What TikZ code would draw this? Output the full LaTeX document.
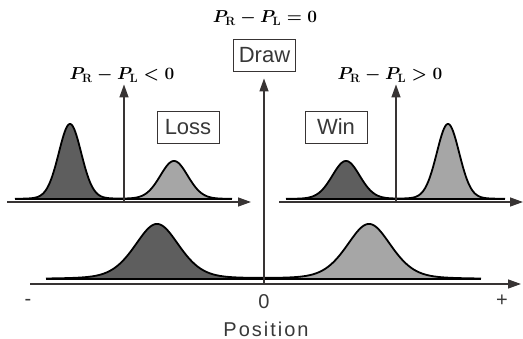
\documentclass[tikz,border=0pt]{standalone}
\usepackage[no-math]{fontspec}
\setmainfont{Liberation Sans}
\newfontfamily\wideface[LetterSpace=10]{Liberation Sans}
\usetikzlibrary{arrows.meta}
\definecolor{axisgray}{HTML}{383434}
\definecolor{textgray}{HTML}{383838}
\definecolor{darkfill}{HTML}{5E5E5E}
\definecolor{lightfill}{HTML}{A6A6A6}
\tikzset{
    axis/.style={draw=axisgray, line width=1.3pt, -{Triangle[length=13pt,width=9pt]}},
    baseline/.style={line width=2.4pt, line cap=butt},
    curve/.style={line width=1.8pt, line join=round},
    box/.style={draw=axisgray, line width=0.9pt, text=textgray, inner sep=0pt,
        minimum width=62pt, minimum height=32pt, font=\fontsize{22}{26}\selectfont},
    eq/.style={inner sep=0pt, font=\fontsize{17}{20}\selectfont\boldmath},
    tick/.style={text=textgray, inner sep=0pt, font=\fontsize{20}{24}\selectfont}
}
\begin{document}
\begin{tikzpicture}[x=1pt, y=-1pt,
        declare function={pk(\x,\c,\s,\e)=(1-\e)*exp(-min(((\x-\c)/\s)^2/2,9))+\e/(1+((\x-\c)/\s)^2/2)^1.5;}]
    \useasboundingbox (0,0) rectangle (523,339);
    % upper left
    \fill[darkfill] (15,199) -- plot[domain=15:124, samples=120]
        (\x, {199-75*pk(\x,70,11.5,0.12)-38*pk(\x,174,14,0.12)}) -- cycle;
    \fill[lightfill] (124,199) -- plot[domain=124:232, samples=120]
        (\x, {199-75*pk(\x,70,11.5,0.12)-38*pk(\x,174,14,0.12)}) -- cycle;
    \draw[curve] plot[domain=15:232, samples=220]
        (\x, {199-75*pk(\x,70,11.5,0.12)-38*pk(\x,174,14,0.12)});
    \draw[baseline] (15,199) -- (232,199);
    \coordinate (la) at (7,202);
    \coordinate (lb) at (251,202);
    \coordinate (lo) at (124,202);
    \draw[axis] (la) -- (lb);
    \node[eq] (neg) at (122,75) {$P_{\mathbf{R}}-P_{\mathbf{L}}<0$};
    \draw[axis, shorten >=2pt] (lo) -- (lo |- neg.south);
    \node[box] (loss) at (188,127) {Loss};
    % upper right
    \fill[darkfill] (286,199) -- plot[domain=286:396, samples=120]
        (\x, {199-38*pk(\x,346,14,0.12)-75*pk(\x,448,11.5,0.12)}) -- cycle;
    \fill[lightfill] (396,199) -- plot[domain=396:505, samples=120]
        (\x, {199-38*pk(\x,346,14,0.12)-75*pk(\x,448,11.5,0.12)}) -- cycle;
    \draw[curve] plot[domain=286:505, samples=220]
        (\x, {199-38*pk(\x,346,14,0.12)-75*pk(\x,448,11.5,0.12)});
    \draw[baseline] (286,199) -- (505,199);
    \coordinate (ra) at (279,202);
    \coordinate (rb) at (523,202);
    \coordinate (ro) at (396,202);
    \draw[axis] (ra) -- (rb);
    \node[eq] (pos) at (390,75) {$P_{\mathbf{R}}-P_{\mathbf{L}}>0$};
    \draw[axis, shorten >=2pt] (ro) -- (ro |- pos.south);
    \node[box] (win) at (336,127) {Win};
    % bottom
    \fill[darkfill] (46,279) -- plot[domain=46:264, samples=150]
        (\x, {279-55*pk(\x,157,23,0.4)-55*pk(\x,369,23,0.4)}) -- cycle;
    \fill[lightfill] (264,279) -- plot[domain=264:481, samples=150]
        (\x, {279-55*pk(\x,157,23,0.4)-55*pk(\x,369,23,0.4)}) -- cycle;
    \draw[curve] plot[domain=46:481, samples=260]
        (\x, {279-55*pk(\x,157,23,0.4)-55*pk(\x,369,23,0.4)});
    \draw[baseline] (46,279) -- (481,279);
    \coordinate (ba) at (30,284);
    \coordinate (bb) at (521,284);
    \coordinate (bo) at (264,284);
    \draw[axis] (ba) -- (bb);
    \node[eq] (zero) at (265,18) {$P_{\mathbf{R}}-P_{\mathbf{L}}=0$};
    \node[box] (draw) at (264.5,55) {Draw};
    \draw[axis, shorten >=7pt] (bo) -- (bo |- draw.south);
    \node[tick] (minus) at (28,302) {-};
    \node[tick] (origin) at (264,301.5) {0};
    \node[tick] (plus) at (502,301) {+};
    \node[tick, font=\fontsize{20}{24}\wideface] (label) at (266,329) {Position};
\end{tikzpicture}
\end{document}
